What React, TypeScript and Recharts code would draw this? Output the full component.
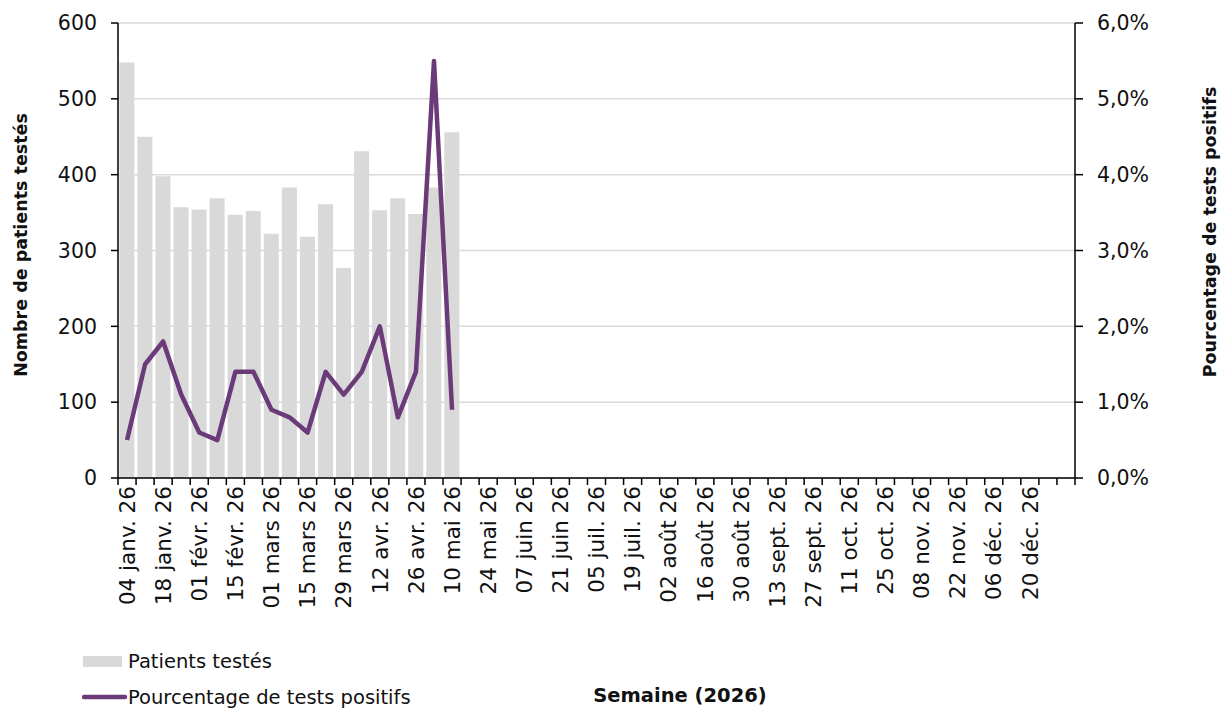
import React from "react"
import { ComposedChart, Bar, Line, XAxis, YAxis, CartesianGrid, Legend } from "recharts"

// semaines 2026 (dimanche)
const weeks = [
  "04 janv. 26", "11 janv. 26", "18 janv. 26", "25 janv. 26", "01 févr. 26", "08 févr. 26",
  "15 févr. 26", "22 févr. 26", "01 mars 26", "08 mars 26", "15 mars 26", "22 mars 26",
  "29 mars 26", "05 avr. 26", "12 avr. 26", "19 avr. 26", "26 avr. 26", "03 mai 26",
  "10 mai 26", "17 mai 26", "24 mai 26", "31 mai 26", "07 juin 26", "14 juin 26",
  "21 juin 26", "28 juin 26", "05 juil. 26", "12 juil. 26", "19 juil. 26", "26 juil. 26",
  "02 août 26", "09 août 26", "16 août 26", "23 août 26", "30 août 26", "06 sept. 26",
  "13 sept. 26", "20 sept. 26", "27 sept. 26", "04 oct. 26", "11 oct. 26", "18 oct. 26",
  "25 oct. 26", "01 nov. 26", "08 nov. 26", "15 nov. 26", "22 nov. 26", "29 nov. 26",
  "06 déc. 26", "13 déc. 26", "20 déc. 26", "27 déc. 26", "",
]

const patients = [548, 450, 398, 357, 354, 369, 347, 352, 322, 383, 318, 361, 277, 431, 353, 369, 348, 383, 456]
const positivity = [0.5, 1.5, 1.8, 1.1, 0.6, 0.5, 1.4, 1.4, 0.9, 0.8, 0.6, 1.4, 1.1, 1.4, 2.0, 0.8, 1.4, 5.5, 0.9]

const leftTicks = [0, 100, 200, 300, 400, 500, 600]
const rightTicks = [0, 1, 2, 3, 4, 5, 6]

const data = weeks.map((w, i) => ({
  week: w,
  patients: patients[i] ?? null,
  pct: positivity[i] ?? null,
}))

const FONT = "'DejaVu Sans', sans-serif"
const BAR = "#d9d9d9"
const PURPLE = "#6b3a78"

const PLOT_LEFT = 118
const PLOT_RIGHT = 1075
const BAND = (PLOT_RIGHT - PLOT_LEFT) / weeks.length

const WeekTick = (props: any) => {
  const { x, y, payload, index } = props
  const showLabel = index % 2 === 0 && payload.value
  return (
    <g>
      <line x1={x - BAND / 2} x2={x - BAND / 2} y1={y} y2={y + 7} stroke="#000" strokeWidth={1.5} />
      {index === weeks.length - 1 && (
        <line x1={x + BAND / 2} x2={x + BAND / 2} y1={y} y2={y + 7} stroke="#000" strokeWidth={1.5} />
      )}
      {showLabel && (
        <text
          x={x}
          y={y + 10}
          transform={`rotate(-90, ${x}, ${y + 10})`}
          textAnchor="end"
          dy="0.36em"
          dx={2}
          fontFamily={FONT}
          fontSize={21.5}
          fill="#111"
        >
          {payload.value}
        </text>
      )}
    </g>
  )
}

const VTitle = ({ px, py, text }: { px: number; py: number; text: string }) => (
  <text
    x={px}
    y={py}
    transform={`rotate(-90, ${px}, ${py})`}
    textAnchor="middle"
    dominantBaseline="central"
    fontFamily={FONT}
    fontWeight="bold"
    fontSize={17.5}
    fill="#111"
  >
    {text}
  </text>
)

const XTitle = () => (
  <text x={680} y={695} textAnchor="middle" dominantBaseline="central" fontFamily={FONT} fontWeight="bold" fontSize={19.5} fill="#111">
    Semaine (2026)
  </text>
)

const renderLegend = () => (
  <div style={{ position: "relative", width: 420, height: 70, fontFamily: FONT, fontSize: 19.5, color: "#111" }}>
    <div style={{ position: "absolute", left: 0, top: 0, height: 32, display: "flex", alignItems: "center" }}>
      <svg width={46} height={32}>
        <rect x={1} y={11} width={39} height={11} fill={BAR} />
      </svg>
      <span>Patients testés</span>
    </div>
    <div style={{ position: "absolute", left: 0, top: 36, height: 32, display: "flex", alignItems: "center" }}>
      <svg width={46} height={32}>
        <line x1={2} x2={43} y1={16} y2={16} stroke={PURPLE} strokeWidth={4.5} strokeLinecap="round" />
      </svg>
      <span>Pourcentage de tests positifs</span>
    </div>
  </div>
)

export default function App() {
  return (
    <div style={{ position: "absolute", left: 0, top: 0, width: 1226, height: 709, background: "#fff" }}>
      <ComposedChart
        width={1226}
        height={709}
        data={data}
        margin={{ top: 23, right: 0, bottom: 0, left: 8 }}
        barCategoryGap="7.5%"
      >
        <CartesianGrid vertical={false} yAxisId="left" stroke="#d9d9d9" strokeWidth={1.5} />
        <XAxis
          dataKey="week"
          interval={0}
          height={231}
          tickSize={0}
          tickMargin={0}
          tickLine={false}
          axisLine={{ stroke: "#000", strokeWidth: 1.5 }}
          tick={<WeekTick />}
          label={<XTitle />}
        />
        <YAxis
          yAxisId="left"
          width={110}
          domain={[0, 600]}
          ticks={leftTicks}
          tickSize={7}
          tickMargin={14}
          axisLine={{ stroke: "#000", strokeWidth: 1.5 }}
          tickLine={{ stroke: "#000", strokeWidth: 1.5 }}
          tick={{ fontFamily: FONT, fontSize: 20.5, fill: "#111" }}
          label={<VTitle px={21} py={245} text="Nombre de patients testés" />}
        />
        <YAxis
          yAxisId="right"
          orientation="right"
          width={151}
          domain={[0, 6]}
          ticks={rightTicks}
          tickSize={8}
          tickMargin={14}
          tickFormatter={(v) => `${Number(v).toFixed(1).replace(".", ",")}%`}
          axisLine={{ stroke: "#000", strokeWidth: 1.5 }}
          tickLine={{ stroke: "#000", strokeWidth: 1.5 }}
          tick={{ fontFamily: FONT, fontSize: 20.5, fill: "#111" }}
          label={<VTitle px={1210} py={232} text="Pourcentage de tests positifs" />}
        />
        <Legend
          layout="vertical"
          align="center"
          verticalAlign="middle"
          content={renderLegend}
          wrapperStyle={{ left: 82, top: 645, width: 420, height: 70 }}
        />
        <Bar yAxisId="left" dataKey="patients" name="Patients testés" fill={BAR} isAnimationActive={false} />
        <Line
          yAxisId="right"
          dataKey="pct"
          name="Pourcentage de tests positifs"
          type="linear"
          stroke={PURPLE}
          strokeWidth={4.5}
          strokeLinejoin="round"
          dot={false}
          activeDot={false}
          connectNulls={false}
          isAnimationActive={false}
        />
      </ComposedChart>
    </div>
  )
}
